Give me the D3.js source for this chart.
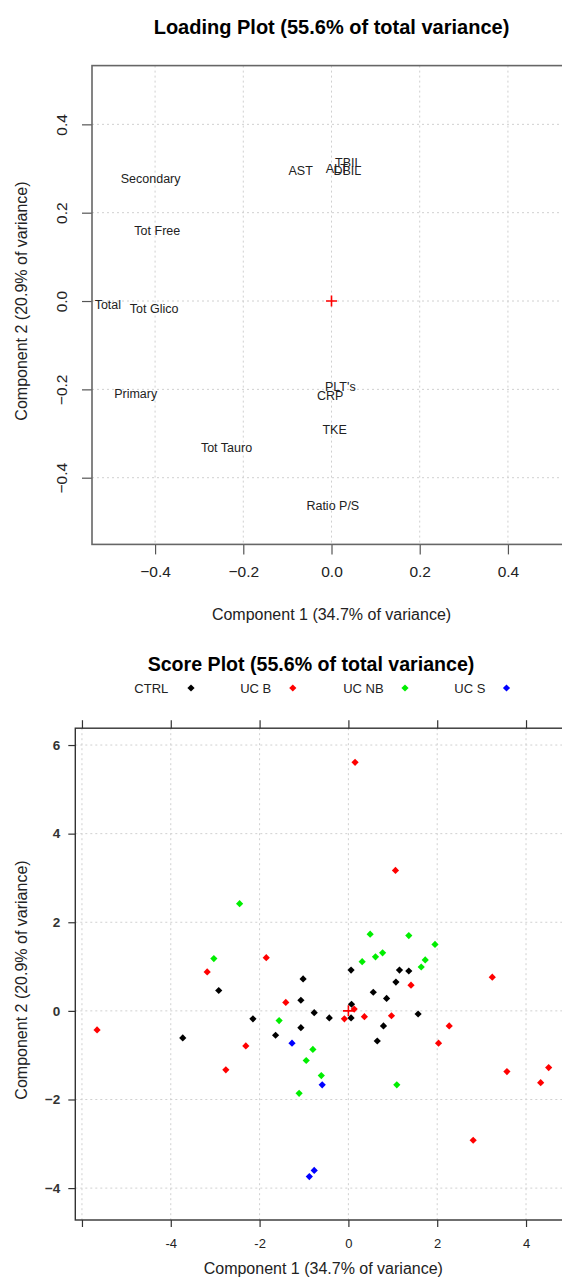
<!DOCTYPE html>
<html>
<head>
<meta charset="utf-8">
<script src="https://cdn.jsdelivr.net/npm/d3@7"></script>
<style>
  body { margin: 0; background: #fff; }
  svg { display: block; font-family: "Liberation Sans", Arial, sans-serif; }
</style>
</head>
<body>
<svg id="chart" width="562" height="1280"></svg>
<script>
// ---- Loading plot data (PC1, PC2 loadings) ----
const loadingNames = ["Secondary", "Tot Free", "Total", "Tot Glico", "AST", "ALT", "DBIL", "TBIL",
  "Primary", "PLT's", "CRP", "TKE", "Tot Tauro", "Ratio P/S"];
const loadingPC1 = [-0.410, -0.395, -0.507, -0.402, -0.070, 0.012, 0.036, 0.038,
  -0.444, 0.020, -0.003, 0.007, -0.238, 0.003];
const loadingPC2 = [0.276, 0.159, -0.008, -0.018, 0.295, 0.299, 0.295, 0.312,
  -0.211, -0.194, -0.214, -0.292, -0.333, -0.464];
const loadingTicks = [-0.4, -0.2, 0.0, 0.2, 0.4];

// ---- Score plot data, one pair of arrays per group ----
const groups = ["CTRL", "UC B", "UC NB", "UC S"];
const groupColors = ["#000000", "#ff0000", "#00ee00", "#0000ff"];

const ctrlPC1 = [-2.92, -3.73, -2.15, -1.64, -1.07, -1.07, -1.02, 0.06, 1.15, 1.36,
  1.07, 0.56, 0.86, 0.07, -0.77, -0.43, 0.06, 1.57, 0.79, 0.65];
const ctrlPC2 = [0.46, -0.61, -0.18, -0.55, 0.24, -0.38, 0.72, 0.92, 0.92, 0.90,
  0.65, 0.42, 0.28, 0.15, -0.04, -0.16, -0.16, -0.07, -0.34, -0.68];

const ucbPC1 = [-5.66, -3.18, -1.85, -2.31, -1.41, -2.76, 0.15, 1.06, 1.41, 3.24,
  0.13, -0.09, 0.36, 0.97, 2.27, 2.03, 3.57, 4.51, 4.33, 2.81];
const ucbPC2 = [-0.43, 0.88, 1.20, -0.79, 0.19, -1.33, 5.61, 3.17, 0.58, 0.76,
  0.04, -0.18, -0.13, -0.11, -0.34, -0.73, -1.37, -1.28, -1.62, -2.92];

const ucnbPC1 = [-2.45, -3.03, -1.56, 0.49, 1.36, 1.95, 0.77, 0.61, 0.31, 1.73,
  1.64, -0.80, -0.95, -0.61, -1.11, 1.09];
const ucnbPC2 = [2.42, 1.18, -0.22, 1.73, 1.70, 1.50, 1.31, 1.22, 1.11, 1.15,
  0.99, -0.87, -1.12, -1.46, -1.86, -1.67];

const ucsPC1 = [-1.27, -0.59, -0.77, -0.88];
const ucsPC2 = [-0.73, -1.67, -3.60, -3.74];

const scoreXTicks = [-6, -4, -2, 0, 2, 4];
const scoreXLabels = ["", "-4", "-2", "0", "2", "4"];
const scoreYTicks = [-4, -2, 0, 2, 4, 6];

const titleLoading = "Loading Plot (55.6% of total variance)";
const titleScore = "Score Plot (55.6% of total variance)";
const xTitle = "Component 1 (34.7% of variance)";
const yTitle = "Component 2 (20.9% of variance)";

const svg = d3.select("#chart");

// ================= Loading plot =================
{
  const x = d3.scaleLinear().domain([-0.543, 0.543]).range([92, 571]);
  const y = d3.scaleLinear().domain([-0.551, 0.533]).range([544.4, 65.6]);
  const g = svg.append("g");

  g.append("text").attr("x", 331.5).attr("y", 27).attr("text-anchor", "middle")
    .attr("dominant-baseline", "central").attr("font-size", 20).attr("font-weight", "bold")
    .attr("fill", "#000").text(titleLoading);

  // dotted grid
  g.selectAll(".vg").data(loadingTicks).join("line")
    .attr("x1", d => x(d)).attr("x2", d => x(d)).attr("y1", y.range()[1]).attr("y2", y.range()[0])
    .attr("stroke", "#d0d0d0").attr("stroke-dasharray", "2,3");
  g.selectAll(".hg").data(loadingTicks).join("line")
    .attr("x1", x.range()[0]).attr("x2", x.range()[1]).attr("y1", d => y(d)).attr("y2", d => y(d))
    .attr("stroke", "#d0d0d0").attr("stroke-dasharray", "2,3");

  // bottom axis
  const xa = g.append("g").attr("transform", `translate(0,${y.range()[0]})`)
    .call(d3.axisBottom(x).tickValues(loadingTicks).tickFormat(d3.format(".1f")).tickSize(10).tickPadding(12));
  xa.select(".domain").remove();
  xa.selectAll("line").attr("stroke", "#555").attr("stroke-width", 1.2);
  xa.selectAll("text").attr("font-size", 15.5).attr("fill", "#222").attr("font-family", null);

  // left axis with rotated labels
  const ya = g.append("g").attr("transform", `translate(${x.range()[0]},0)`)
    .call(d3.axisLeft(y).tickValues(loadingTicks).tickFormat(d3.format(".1f")).tickSize(10).tickPadding(0));
  ya.select(".domain").remove();
  ya.selectAll("line").attr("stroke", "#555").attr("stroke-width", 1.2);
  ya.selectAll("text").attr("font-size", 15.5).attr("fill", "#222").attr("font-family", null)
    .attr("x", 0).attr("dy", null).attr("text-anchor", "middle").attr("dominant-baseline", "central")
    .attr("transform", "translate(-31,0) rotate(-90)");

  // box
  g.append("rect").attr("x", x.range()[0]).attr("y", y.range()[1])
    .attr("width", x.range()[1] - x.range()[0]).attr("height", y.range()[0] - y.range()[1])
    .attr("fill", "none").attr("stroke", "#666").attr("stroke-width", 1.6);

  // variable names at their loadings
  g.selectAll(".lbl").data(loadingNames).join("text")
    .attr("x", (d, i) => x(loadingPC1[i])).attr("y", (d, i) => y(loadingPC2[i]))
    .attr("text-anchor", "middle").attr("dominant-baseline", "central")
    .attr("font-size", 12.5).attr("fill", "#222").text(d => d);

  // origin marker
  const cx = x(0), cy = y(0);
  g.append("path").attr("d", `M${cx - 5.5},${cy}H${cx + 5.5}M${cx},${cy - 5.5}V${cy + 5.5}`)
    .attr("stroke", "#ff0000").attr("stroke-width", 1.6);

  g.append("text").attr("x", x(0)).attr("y", 614).attr("text-anchor", "middle")
    .attr("dominant-baseline", "central").attr("font-size", 16).attr("fill", "#222").text(xTitle);
  g.append("text").attr("transform", `translate(21,${y(-0.0)}) rotate(-90)`).attr("text-anchor", "middle")
    .attr("dominant-baseline", "central").attr("font-size", 16).attr("fill", "#222").text(yTitle);
}

// ================= Score plot =================
{
  const x = d3.scaleLinear().domain([-6.15, 6.15]).range([75.3, 621.5]);
  const y = d3.scaleLinear().domain([-4.72, 6.38]).range([1220, 728.2]);
  const g = svg.append("g");

  g.append("text").attr("x", 311).attr("y", 664).attr("text-anchor", "middle")
    .attr("dominant-baseline", "central").attr("font-size", 19.6).attr("font-weight", "bold")
    .attr("fill", "#000").text(titleScore);

  // legend row
  const legendTextX = [151.3, 255.7, 363.4, 469.9];
  const legendDotX = [191, 292.8, 405, 506.5];
  groups.forEach((name, i) => {
    g.append("text").attr("x", legendTextX[i]).attr("y", 688).attr("text-anchor", "middle")
      .attr("dominant-baseline", "central").attr("font-size", 13).attr("fill", "#222").text(name);
    g.append("path").attr("transform", `translate(${legendDotX[i]},688)`)
      .attr("d", "M0,-3.6L3.6,0L0,3.6L-3.6,0Z").attr("fill", groupColors[i]);
  });

  // dotted grid
  g.selectAll(".vg").data(scoreXTicks).join("line")
    .attr("x1", d => x(d)).attr("x2", d => x(d)).attr("y1", y.range()[1]).attr("y2", y.range()[0])
    .attr("stroke", "#d0d0d0").attr("stroke-dasharray", "2,3");
  g.selectAll(".hg").data(scoreYTicks).join("line")
    .attr("x1", x.range()[0]).attr("x2", x.range()[1]).attr("y1", d => y(d)).attr("y2", d => y(d))
    .attr("stroke", "#d0d0d0").attr("stroke-dasharray", "2,3");

  // top ticks (no labels)
  const ta = g.append("g").attr("transform", `translate(0,${y.range()[1]})`)
    .call(d3.axisTop(x).tickValues(scoreXTicks).tickFormat("").tickSize(8));
  ta.select(".domain").remove();
  ta.selectAll("line").attr("stroke", "#333").attr("stroke-width", 1.2);

  // bottom axis
  const xa = g.append("g").attr("transform", `translate(0,${y.range()[0]})`)
    .call(d3.axisBottom(x).tickValues(scoreXTicks).tickFormat((d, i) => scoreXLabels[i]).tickSize(7).tickPadding(12));
  xa.select(".domain").remove();
  xa.selectAll("line").attr("stroke", "#333").attr("stroke-width", 1.2);
  xa.selectAll("text").attr("font-size", 13).attr("fill", "#222").attr("font-family", null);

  // left axis, horizontal labels
  const ya = g.append("g").attr("transform", `translate(${x.range()[0]},0)`)
    .call(d3.axisLeft(y).tickValues(scoreYTicks).tickFormat(d3.format("d")).tickSize(7).tickPadding(8));
  ya.select(".domain").remove();
  ya.selectAll("line").attr("stroke", "#333").attr("stroke-width", 1.2);
  ya.selectAll("text").attr("font-size", 13.5).attr("font-weight", "bold").attr("fill", "#333").attr("font-family", null);

  // box
  g.append("rect").attr("x", x.range()[0]).attr("y", y.range()[1])
    .attr("width", x.range()[1] - x.range()[0]).attr("height", y.range()[0] - y.range()[1])
    .attr("fill", "none").attr("stroke", "#333").attr("stroke-width", 1.4);

  // points
  const series = [[ctrlPC1, ctrlPC2], [ucbPC1, ucbPC2], [ucnbPC1, ucnbPC2], [ucsPC1, ucsPC2]];
  series.forEach(([px, py], gi) => {
    g.append("g").selectAll("path").data(px).join("path")
      .attr("transform", (d, i) => `translate(${x(d)},${y(py[i])})`)
      .attr("d", "M0,-3.6L3.6,0L0,3.6L-3.6,0Z").attr("fill", groupColors[gi]);
  });

  // centroid marker
  const cx = x(0), cy = y(0);
  g.append("path").attr("d", `M${cx - 5.5},${cy}H${cx + 5.5}M${cx},${cy - 5.5}V${cy + 5.5}`)
    .attr("stroke", "#ff0000").attr("stroke-width", 1.6);

  g.append("text").attr("x", 323.3).attr("y", 1268).attr("text-anchor", "middle")
    .attr("dominant-baseline", "central").attr("font-size", 16).attr("fill", "#222").text(xTitle);
  g.append("text").attr("transform", `translate(21,980) rotate(-90)`).attr("text-anchor", "middle")
    .attr("dominant-baseline", "central").attr("font-size", 16).attr("fill", "#222").text(yTitle);
}
</script>
</body>
</html>
